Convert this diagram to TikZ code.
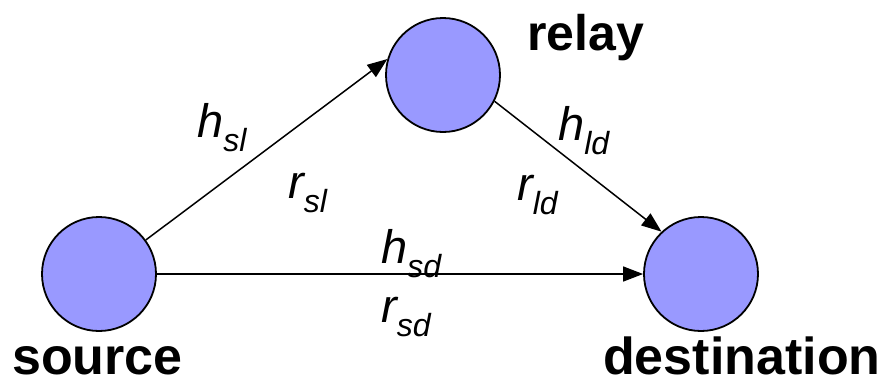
\documentclass[tikz,border=0pt]{standalone}
\usepackage{fontspec}
\setmainfont{Liberation Sans}
\usetikzlibrary{arrows.meta}
\definecolor{nodeblue}{HTML}{9999FF}
\tikzset{
  station/.style={circle, draw=black, line width=1.8pt, fill=nodeblue, minimum size=114pt, inner sep=0pt},
  link/.style={line width=1.5pt, -{Triangle[length=20pt,width=15pt]}},
  stationlbl/.style={anchor=base west, inner sep=0pt, font=\fontsize{52}{60}\selectfont\bfseries},
  chanlbl/.style={anchor=base west, inner sep=0pt, font=\fontsize{47}{50}\selectfont\itshape}
}
\newcommand{\chsub}[1]{\raisebox{-0.3em}{\fontsize{32}{32}\selectfont #1}}
\begin{document}
\begin{tikzpicture}[x=1pt,y=-1pt]
\useasboundingbox (0,0) rectangle (887,384);
\node[station] (s) at (99,274) {};
\node[station] (r) at (443,75) {};
\node[station] (d) at (701,274) {};
\draw[link] (s.36) -- (r.164);
\draw[link] (r.-27) -- (d.133);
\draw[link] (s.east) -- (d.west);
\node[stationlbl, font=\fontsize{50}{60}\selectfont\bfseries] (lr) at (527,50) {relay};
\node[stationlbl] (ls) at (12,374) {source};
\node[stationlbl] (ld) at (603,374) {destination};
\node[chanlbl] (hsl) at (197,137) {h\chsub{sl}};
\node[chanlbl] (rsl) at (288,198) {r\chsub{sl}};
\node[chanlbl] (hld) at (558,140) {h\chsub{ld}};
\node[chanlbl] (rld) at (517,200) {r\chsub{ld}};
\node[chanlbl] (hsd) at (381,263) {h\chsub{sd}};
\node[chanlbl] (rsd) at (381,322) {r\chsub{sd}};
\end{tikzpicture}
\end{document}
